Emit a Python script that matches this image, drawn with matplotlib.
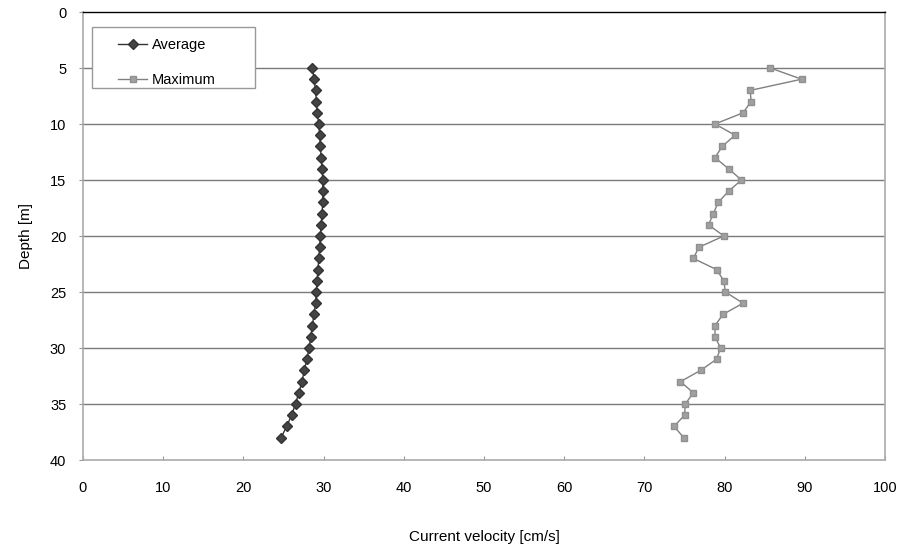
import matplotlib
matplotlib.use("Agg")
import matplotlib.pyplot as plt
from matplotlib.patches import Rectangle

plt.rcParams['font.family'] = ['Liberation Sans', 'DejaVu Sans']

depth = list(range(5, 39))
average = [28.6, 28.8, 29.0, 29.1, 29.2, 29.4, 29.5, 29.6, 29.7, 29.8,
           29.9, 29.9, 29.9, 29.8, 29.7, 29.6, 29.5, 29.4, 29.3, 29.2,
           29.1, 29.0, 28.8, 28.6, 28.4, 28.2, 27.9, 27.6, 27.3, 26.9,
           26.5, 26.0, 25.4, 24.7]
maximum = [85.7, 89.6, 83.2, 83.3, 82.3, 78.8, 81.3, 79.7, 78.8, 80.5,
           82.1, 80.5, 79.2, 78.6, 78.0, 79.9, 76.8, 76.1, 79.0, 79.9,
           80.1, 82.3, 79.8, 78.8, 78.8, 79.5, 79.0, 77.0, 74.5, 76.1,
           75.1, 75.0, 73.7, 74.9]
x_ticks = [0, 10, 20, 30, 40, 50, 60, 70, 80, 90, 100]
y_ticks = [0, 5, 10, 15, 20, 25, 30, 35, 40]

W, H = 903, 557
L, R, T, B = 83, 885, 12, 460
fig = plt.figure(figsize=(W/100, H/100), dpi=100)
ax = fig.add_axes([L/W, 1 - B/H, (R-L)/W, (B-T)/H])

def ax_xy(px, py):
    return (px - L) / (R - L), (B - py) / (B - T)

for yv in y_ticks[1:-1]:
    ax.axhline(yv, color='#7a7a7a', lw=1.0, zorder=1)

ax.plot(average, depth, color='#333333', lw=1.0, marker='D', ms=5,
        mfc='#444444', mec='#333333', label='Average', zorder=3)
ax.plot(maximum, depth, color='#808080', lw=1.0, marker='s', ms=5,
        mfc='#a0a0a0', mec='#909090', label='Maximum', zorder=3)

ax.set_xlim(0, 100)
ax.set_ylim(40, 0)
ax.set_xticks(x_ticks)
ax.set_yticks(y_ticks)
ax.tick_params(axis='x', direction='in', length=3, pad=15, labelsize=10.5, color='#999999')
ax.tick_params(axis='y', direction='out', length=3, pad=9, labelsize=10.5, color='#999999')

ax.spines['top'].set_color('black')
ax.spines['top'].set_linewidth(1.0)
for s in ['bottom', 'left', 'right']:
    ax.spines[s].set_color('#aaaaaa')
    ax.spines[s].set_linewidth(1.2)

ax.set_xlabel('Current velocity [cm/s]', fontsize=11, labelpad=25)
ax.set_ylabel('Depth [m]', fontsize=11, labelpad=12)

# legend frame
x0, y0 = ax_xy(92, 88)
x1, y1 = ax_xy(255, 27)
ax.add_patch(Rectangle((x0, y0), x1 - x0, y1 - y0, transform=ax.transAxes,
                       facecolor='white', edgecolor='#999999', lw=1.0, zorder=4))
lx, ly = ax_xy(118, 38)
leg = ax.legend(loc='upper left', bbox_to_anchor=(lx, ly), frameon=False,
                fontsize=10.5, handlelength=2.0, handletextpad=0.3,
                borderpad=0, borderaxespad=0, labelspacing=1.45)
leg.set_zorder(5)

fig.savefig('out.png', dpi=100)
